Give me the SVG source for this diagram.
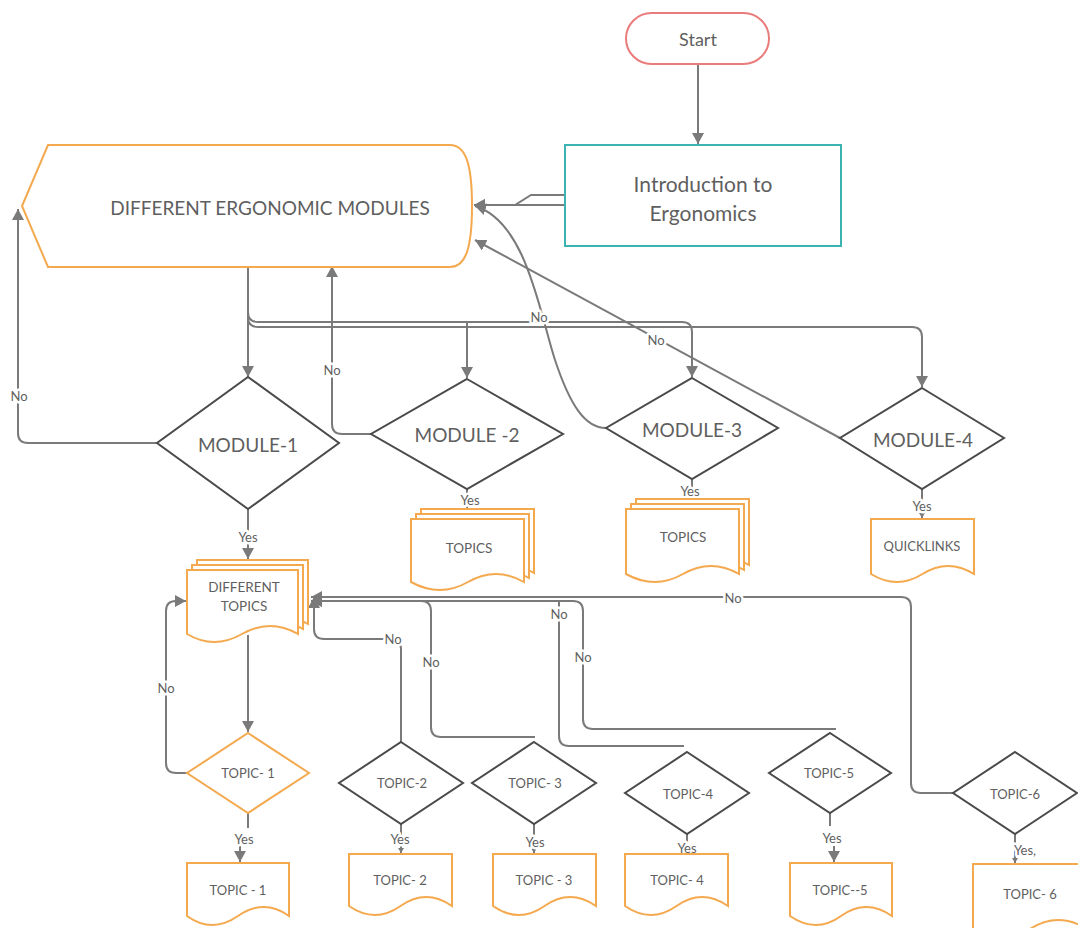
<svg xmlns="http://www.w3.org/2000/svg" width="1078" height="928" viewBox="0 0 1078 928">
<style>
.t{font-family:Lato,"Liberation Sans",sans-serif;fill:#5f5f5f;text-anchor:middle;dominant-baseline:central}
.c{fill:none;stroke:#7a7a7a;stroke-width:2}
.d{fill:#fff;stroke:#4a4a4a;stroke-width:2}
.o{fill:#fff;stroke:#f4a94f;stroke-width:2}
.lb{font-family:Lato,"Liberation Sans",sans-serif;fill:#5f5f5f;text-anchor:middle;dominant-baseline:central;font-size:13px;stroke:#fff;stroke-width:5px;paint-order:stroke;stroke-linejoin:round}
</style>
<defs>
<marker id="a" markerUnits="userSpaceOnUse" markerWidth="12" markerHeight="12" refX="11" refY="6" orient="auto"><path d="M0,0 L11,6 L0,12 Z" fill="#7a7a7a"/></marker>
<marker id="s" markerUnits="userSpaceOnUse" markerWidth="6" markerHeight="6" refX="5" refY="3" orient="auto"><path d="M0,0 L5,3 L0,6 Z" fill="#7a7a7a"/></marker>
</defs>
<rect width="1078" height="928" fill="#fff"/>

<g id="connectors">
<path class="c" d="M698,64 V144" marker-end="url(#a)"/>
<path class="c" d="M565,195 H531 L515,205 H474" marker-end="url(#a)"/>
<path class="c" d="M576,205 H474" marker-end="url(#a)"/>
<path class="c" d="M248,267 V377" marker-end="url(#a)"/>
<path class="c" d="M248,300 V312 Q248,322 258,322 H682 Q692,322 692,332 V377" marker-end="url(#a)"/>
<path class="c" d="M467,322 V378" marker-end="url(#a)"/>
<path class="c" d="M248,300 V317 Q248,327 258,327 H912 Q922,327 922,337 V387" marker-end="url(#a)"/>
<path class="c" d="M157,443 H28 Q18,443 18,433 V209" marker-end="url(#a)"/>
<path class="c" d="M371,434 H342 Q332,434 332,424 V266" marker-end="url(#a)"/>
<path class="c" d="M606,428 C585,428 570,405 555,360 C540,315 527,222 475,206" marker-end="url(#a)"/>
<path class="c" d="M840,438 L475,240" marker-end="url(#a)"/>
<path class="c" d="M248,509 V559" marker-end="url(#a)"/>
<path class="c" d="M467,489 V508"/>
<path class="c" d="M692,479 V498"/>
<path class="c" d="M922,489 V518" marker-end="url(#s)"/>
<path class="c" d="M248,635 V732" marker-end="url(#a)"/>
<path class="c" d="M187,773 H176 Q166,773 166,763 V611 Q166,601 176,601 H186" marker-end="url(#a)"/>
<path class="c" d="M248,813 V828 M240,846 V862" marker-end="url(#a)"/>
<path class="c" d="M953,793 H921 Q911,793 911,783 V607 Q911,597 901,597 H311" marker-end="url(#a)"/>
<path class="c" d="M836,729 H593 Q583,729 583,719 V611 Q583,601 573,601 H311" marker-end="url(#a)"/>
<path class="c" d="M684,746 H569 Q559,746 559,736 V601"/>
<path class="c" d="M535,737 H441 Q431,737 431,727 V611 Q431,601 421,601 H311" marker-end="url(#a)"/>
<path class="c" d="M401,742 V649 Q401,639 391,639 H324 Q314,639 314,629 V597" marker-end="url(#a)"/>
<path class="c" d="M401,824 V853" marker-end="url(#s)"/>
<path class="c" d="M534,824 V853" marker-end="url(#s)"/>
<path class="c" d="M687,834 V853"/>
<path class="c" d="M830,813 V826 M834,846 V862" marker-end="url(#a)"/>
<path class="c" d="M1015,834 V863" marker-end="url(#s)"/>
<text class="lb" x="19" y="396">No</text>
<text class="lb" x="332" y="370">No</text>
<text class="lb" x="539" y="317">No</text>
<text class="lb" x="656" y="340">No</text>
<text class="lb" x="248" y="537">Yes</text>
<text class="lb" x="470" y="500">Yes</text>
<text class="lb" x="690" y="491">Yes</text>
<text class="lb" x="922" y="506">Yes</text>
<text class="lb" x="166" y="688">No</text>
<text class="lb" x="393" y="639">No</text>
<text class="lb" x="431" y="662">No</text>
<text class="lb" x="559" y="614">No</text>
<text class="lb" x="583" y="657">No</text>
<text class="lb" x="733" y="598">No</text>
<text class="lb" x="244" y="839">Yes</text>
<text class="lb" x="400" y="839">Yes</text>
<text class="lb" x="535" y="842">Yes</text>
<text class="lb" x="687" y="848">Yes</text>
<text class="lb" x="832" y="838">Yes</text>
<text class="lb" x="1025" y="850">Yes,</text>
</g>

<g id="start">
<rect x="626" y="13" width="143" height="51" rx="25.5" fill="#fff" stroke="#ea7b7b" stroke-width="2"/>
<text class="t" x="698" y="39" font-size="18">Start</text>
</g>
<g id="intro">
<rect x="565" y="145" width="276" height="101" fill="#fff" stroke="#3ab3b1" stroke-width="2"/>
<text class="t" x="703" y="183" font-size="21">Introduction to</text>
<text class="t" x="703" y="212" font-size="21">Ergonomics</text>
</g>
<g id="modules">
<path d="M48,145 H450 C466,145 472,165 472,206 C472,247 466,267 450,267 H48 L22,206 Z" fill="#fff" stroke="#f4a94f" stroke-width="2"/>
<text class="t" x="270" y="207" font-size="19">DIFFERENT ERGONOMIC MODULES</text>
</g>
<g id="module1">
<polygon class="d" points="248,377 339,443 248,509 157,443"/>
<text class="t" x="248" y="444" font-size="19">MODULE-1</text>
</g>
<g id="module2">
<polygon class="d" points="467,379 563,434 467,489 371,434"/>
<text class="t" x="467" y="434" font-size="19">MODULE -2</text>
</g>
<g id="module3">
<polygon class="d" points="692,378 778,428 692,479 606,428"/>
<text class="t" x="692" y="429" font-size="19">MODULE-3</text>
</g>
<g id="module4">
<polygon class="d" points="922,388 1004,438 922,489 840,438"/>
<text class="t" x="923" y="439" font-size="19">MODULE-4</text>
</g>
<g id="different-topics">
<path class="o" d="M197,560 H308 V624 Q280,608 252,624 T197,624 Z"/>
<path class="o" d="M192,565 H303 V629 Q275,613 247,629 T192,629 Z"/>
<path class="o" d="M187,570 H298 V634 Q270,618 242,634 T187,634 Z"/>
<text class="t" x="244" y="587" font-size="13.5">DIFFERENT</text>
<text class="t" x="244" y="606" font-size="13.5">TOPICS</text>
</g>
<g id="topics-2">
<path class="o" d="M421,509 H534 V573 Q506,557 478,573 T421,573 Z"/>
<path class="o" d="M416,514 H529 V578 Q501,562 473,578 T416,578 Z"/>
<path class="o" d="M411,519 H524 V582 Q496,566 468,582 T411,582 Z"/>
<text class="t" x="469" y="548" font-size="13.5">TOPICS</text>
</g>
<g id="topics-3">
<path class="o" d="M636,499 H749 V565 Q721,549 693,565 T636,565 Z"/>
<path class="o" d="M631,504 H744 V570 Q716,554 688,570 T631,570 Z"/>
<path class="o" d="M626,509 H739 V574 Q711,558 683,574 T626,574 Z"/>
<text class="t" x="683" y="537" font-size="13.5">TOPICS</text>
</g>
<g id="quicklinks">
<path class="o" d="M871,519 H974 V574 Q948,558 922.5,574 T871,574 Z"/>
<text class="t" x="922" y="546" font-size="13">QUICKLINKS</text>
</g>
<g id="topic1-decision">
<polygon points="248,733 309,773 248,813 187,773" fill="#fff" stroke="#f4a94f" stroke-width="2"/>
<text class="t" x="248" y="773" font-size="13">TOPIC- 1</text>
</g>
<g id="topic2-decision">
<polygon class="d" points="401,742 463,783 401,824 339,783"/>
<text class="t" x="402" y="783" font-size="13">TOPIC-2</text>
</g>
<g id="topic3-decision">
<polygon class="d" points="534,742 596,783 534,824 472,783"/>
<text class="t" x="535" y="783" font-size="13">TOPIC- 3</text>
</g>
<g id="topic4-decision">
<polygon class="d" points="687,752 749,793 687,834 625,793"/>
<text class="t" x="688" y="794" font-size="13">TOPIC-4</text>
</g>
<g id="topic5-decision">
<polygon class="d" points="830,733 891,773 830,813 769,773"/>
<text class="t" x="829" y="773" font-size="13">TOPIC-5</text>
</g>
<g id="topic6-decision">
<polygon class="d" points="1015,752 1077,793 1015,834 953,793"/>
<text class="t" x="1015" y="794" font-size="13">TOPIC-6</text>
</g>
<g id="topic1-doc">
<path class="o" d="M187,863 H289 V916 Q264,898 238,916 T187,916 Z"/>
<text class="t" x="238" y="890" font-size="13">TOPIC - 1</text>
</g>
<g id="topic2-doc">
<path class="o" d="M349,854 H452 V906 Q426,888 400.5,906 T349,906 Z"/>
<text class="t" x="400" y="880" font-size="13">TOPIC- 2</text>
</g>
<g id="topic3-doc">
<path class="o" d="M493,854 H596 V906 Q570,888 544.5,906 T493,906 Z"/>
<text class="t" x="544" y="880" font-size="13">TOPIC - 3</text>
</g>
<g id="topic4-doc">
<path class="o" d="M625,854 H728 V906 Q702,888 676.5,906 T625,906 Z"/>
<text class="t" x="677" y="880" font-size="13">TOPIC- 4</text>
</g>
<g id="topic5-doc">
<path class="o" d="M790,863 H892 V916 Q866,898 841,916 T790,916 Z"/>
<text class="t" x="840" y="890" font-size="13">TOPIC--5</text>
</g>
<g id="topic6-doc">
<path class="o" d="M973,864 H1087 V929 Q1058,911 1030,929 T973,929 Z"/>
<text class="t" x="1030" y="894" font-size="13">TOPIC- 6</text>
</g>
</svg>
